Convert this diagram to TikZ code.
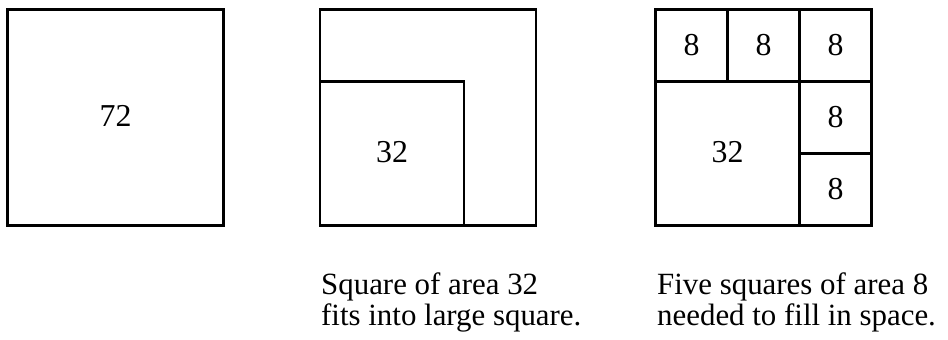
\documentclass[tikz,border=0pt]{standalone}
\usepackage{fontspec}
\setmainfont{Liberation Serif}
\begin{document}
\begin{tikzpicture}[x=1bp,y=-1bp,
  sq/.style={draw=black, line width=2.2bp, inner sep=0pt, outer sep=0pt, fill=none},
  num/.style={font=\fontsize{32}{32}\selectfont},
  captxt/.style={anchor=base west, inner sep=0pt, font=\fontsize{31}{29}\selectfont}]
\useasboundingbox[fill=white] (0,0) rectangle (948,339);
% first square
\node[sq, minimum size=216bp, num] (A) at (115.5,117.5) {\raisebox{4bp}{72}};
% second square
\node[sq, minimum size=216bp] (B) at (428,117.5) {};
\node[sq, minimum size=144bp, num] (B32) at (392,153.5) {\raisebox{4bp}{32}};
% third square
\node[sq, minimum size=216bp] (C) at (763.5,117.5) {};
\node[sq, minimum size=144bp, num] (C32) at (727.5,153.5) {\raisebox{4bp}{32}};
\node[sq, minimum size=72bp, num] (C1) at (691.5,45.5) {8};
\node[sq, minimum size=72bp, num] (C2) at (763.5,45.5) {8};
\node[sq, minimum size=72bp, num] (C3) at (835.5,45.5) {8};
\node[sq, minimum size=72bp, num] (C4) at (835.5,117.5) {8};
\node[sq, minimum size=72bp, num] (C5) at (835.5,189.5) {8};
% captions
\node[captxt] (B1) at (321,294) {Square of area 32};
\node[captxt] (B2) at (321,325) {fits into large square.};
\node[captxt] (D1) at (657,294) {Five squares of area 8};
\node[captxt] (D2) at (657,325) {needed to fill in space.};
\end{tikzpicture}
\end{document}
